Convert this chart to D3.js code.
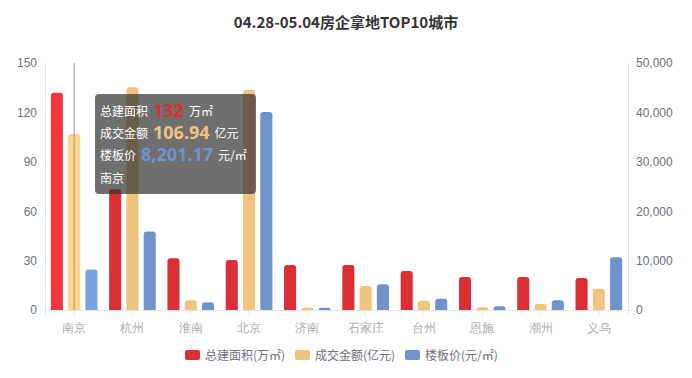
<!DOCTYPE html>
<html>
<head>
<meta charset="utf-8">
<script src="https://cdn.jsdelivr.net/npm/d3@7/dist/d3.min.js"></script>
<style>
  body { margin: 0; background: #fff; }
  svg { font-family: "Noto Sans CJK SC", "Noto Sans", sans-serif; display: block; }
</style>
</head>
<body>
<svg id="chart" width="692" height="378"></svg>
<script>
// data
const cities = ['南京', '杭州', '淮南', '北京', '济南', '石家庄', '台州', '恩施', '潮州', '义乌'];
const area = [132, 73.3, 31.5, 30.4, 27.3, 27.3, 23.7, 20.0, 20.0, 19.4];      // 万㎡
const amount = [106.94, 135.2, 5.9, 133.6, 1.4, 14.6, 5.6, 1.6, 3.6, 12.9];   // 亿元
const price = [8201.17, 15900, 1560, 40100, 470, 5200, 2290, 750, 1960, 10700]; // 元/㎡
const leftTicks = [0, 30, 60, 90, 120, 150];
const rightTicks = [0, 10000, 20000, 30000, 40000, 50000];

const series = [
  { name: '总建面积(万㎡)', values: area, axis: 'left', color: '#dc2e35', hi: '#f0353e' },
  { name: '成交金额(亿元)', values: amount, axis: 'left', color: '#efc47f', hi: '#ffd588' },
  { name: '楼板价(元/㎡)', values: price, axis: 'right', color: '#7093cc', hi: '#7ba3e2' }
];
const active = 0; // hovered category

const svg = d3.select('#chart');
const W = 692, H = 378;
const m = { top: 63, right: 64, bottom: 68, left: 45 };
const iw = W - m.left - m.right, ih = H - m.top - m.bottom;

const x = d3.scaleBand().domain(cities).range([m.left, m.left + iw]).paddingInner(0.2).paddingOuter(0.1);
const xCat = d3.scaleBand().domain(cities).range([m.left, m.left + iw]);
const xs = d3.scaleBand().domain(series.map(s => s.name)).range([0, x.bandwidth()]).paddingInner(0.3);
const yL = d3.scaleLinear().domain([0, 150]).range([m.top + ih, m.top]);
const yR = d3.scaleLinear().domain([0, 50000]).range([m.top + ih, m.top]);

svg.append('text')
  .attr('x', W / 2).attr('y', 28)
  .attr('text-anchor', 'middle')
  .attr('font-size', 15).attr('font-weight', 'bold')
  .attr('fill', '#333')
  .text('04.28-05.04房企拿地TOP10城市');

// axes
const axisColor = '#e0e6f1';
const gL = svg.append('g').attr('transform', `translate(${m.left},0)`)
  .call(d3.axisLeft(yL).tickValues(leftTicks).tickSize(0).tickPadding(8));
const gR = svg.append('g').attr('transform', `translate(${m.left + iw},0)`)
  .call(d3.axisRight(yR).tickValues(rightTicks).tickSize(0).tickPadding(8).tickFormat(d3.format(',')));
[gL, gR].forEach(g => {
  g.select('.domain').attr('stroke', axisColor);
  g.selectAll('text').attr('fill', '#6e7079').attr('font-size', 12);
});

const gX = svg.append('g').attr('transform', `translate(0,${m.top + ih})`)
  .call(d3.axisBottom(xCat).tickSize(5).tickPadding(8));
gX.select('.domain').attr('stroke', axisColor);
gX.selectAll('line').attr('stroke', axisColor);
gX.selectAll('text').attr('fill', '#aaa').attr('font-size', 12);

// bars with rounded tops
function barPath(x0, y0, w, yb, r) {
  r = Math.min(r, w / 2, yb - y0);
  return `M${x0},${yb}V${y0 + r}Q${x0},${y0} ${x0 + r},${y0}H${x0 + w - r}Q${x0 + w},${y0} ${x0 + w},${y0 + r}V${yb}Z`;
}
series.forEach(s => {
  const y = s.axis === 'left' ? yL : yR;
  svg.append('g').selectAll('path')
    .data(s.values)
    .join('path')
    .attr('d', (d, i) => barPath(x(cities[i]) + xs(s.name), y(d), xs.bandwidth(), y(0), 3))
    .attr('fill', (d, i) => i === active ? s.hi : s.color);
});

// axis pointer
const px = xCat(cities[active]) + xCat.bandwidth() / 2;
svg.append('line')
  .attr('x1', px).attr('x2', px).attr('y1', m.top).attr('y2', m.top + ih)
  .attr('stroke', '#999').attr('stroke-width', 1);

// legend
const legend = svg.append('g').attr('transform', `translate(185,350)`);
const offsets = [0, 110, 220];
series.forEach((s, i) => {
  const g = legend.append('g').attr('transform', `translate(${offsets[i]},0)`);
  g.append('rect').attr('width', 15).attr('height', 10).attr('rx', 2).attr('fill', s.color);
  g.append('text').attr('x', 20).attr('y', 9.5).attr('font-size', 12).attr('fill', '#6e7079').text(s.name);
});

// tooltip
const tip = svg.append('g').attr('transform', 'translate(95,94)');
tip.append('rect').attr('width', 161).attr('height', 100).attr('rx', 4)
  .attr('fill', 'rgba(50,50,50,0.7)');
const rows = [
  { label: '总建面积', value: d3.format('')(area[active]), unit: '万㎡', color: '#dc2e35' },
  { label: '成交金额', value: d3.format('.2f')(amount[active]), unit: '亿元', color: '#efc47f' },
  { label: '楼板价', value: d3.format(',.2f')(price[active]), unit: '元/㎡', color: '#7093cc' }
];
rows.forEach((r, i) => {
  const y = 22 + i * 22;
  let cx = 5;
  const l = tip.append('text').attr('x', cx).attr('y', y).attr('fill', '#fff').attr('font-size', 12).text(r.label);
  cx += l.node().getComputedTextLength() + 5;
  const v = tip.append('text').attr('x', cx).attr('y', y + 1).attr('fill', r.color)
    .attr('font-size', 18).attr('font-weight', 'bold').attr('font-family', '"Open Sans", sans-serif').text(r.value);
  cx += v.node().getComputedTextLength() + 5;
  tip.append('text').attr('x', cx).attr('y', y).attr('fill', '#fff').attr('font-size', 12).text(r.unit);
});
tip.append('text').attr('x', 5).attr('y', 89).attr('fill', '#fff').attr('font-size', 12).text(cities[active]);
</script>
</body>
</html>
